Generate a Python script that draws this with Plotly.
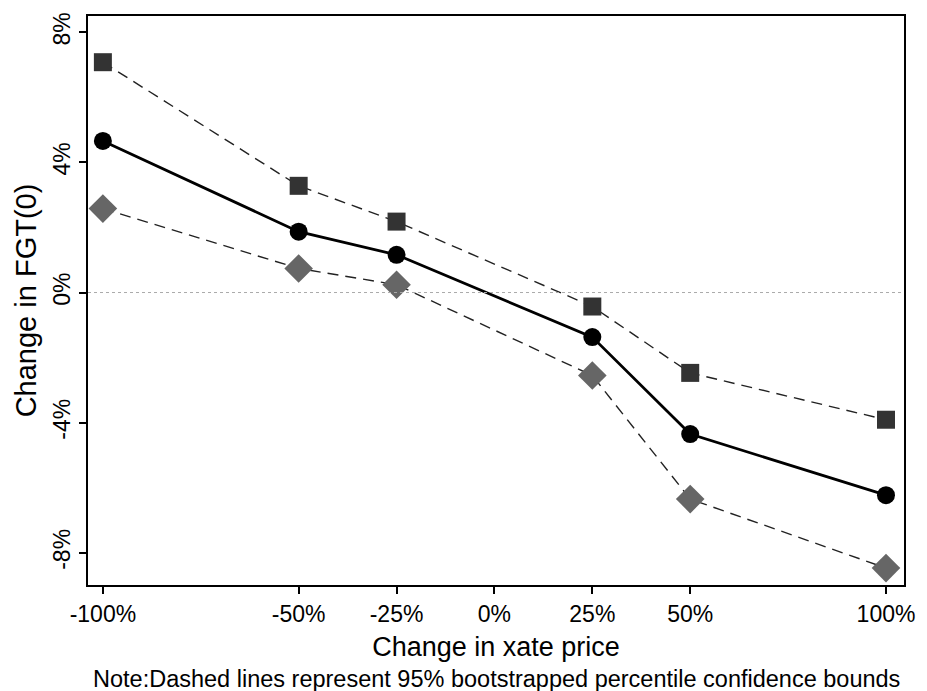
import plotly.graph_objects as go

price_change = [-100, -50, -25, 25, 50, 100]
upper_bound = [7.08, 3.28, 2.18, -0.43, -2.47, -3.91]
point_est = [4.66, 1.87, 1.16, -1.37, -4.35, -6.23]
lower_bound = [2.58, 0.74, 0.24, -2.55, -6.35, -8.47]

x_ticks = [-100, -50, -25, 0, 25, 50, 100]
x_ticktext = ["-100%", "-50%", "-25%", "0%", "25%", "50%", "100%"]
y_ticks = [-8, -4, 0, 4, 8]
y_ticktext = ["-8%", "-4%", "0%", "4%", "8%"]

FONT = "Liberation Sans, Arial, sans-serif"

fig = go.Figure()
fig.add_hline(y=0, line=dict(color="#aaaaaa", width=1, dash="dot"))
fig.add_trace(go.Scatter(x=price_change, y=upper_bound, mode="lines+markers",
                         line=dict(color="#222222", width=1.4, dash="11px,7px"),
                         marker=dict(symbol="square", size=18, color="#333333")))
fig.add_trace(go.Scatter(x=price_change, y=lower_bound, mode="lines+markers",
                         line=dict(color="#222222", width=1.4, dash="11px,7px"),
                         marker=dict(symbol="diamond", size=22, color="#666666")))
fig.add_trace(go.Scatter(x=price_change, y=point_est, mode="lines+markers",
                         line=dict(color="#000000", width=2.8),
                         marker=dict(symbol="circle", size=18, color="#000000")))

fig.update_layout(
    width=927, height=691,
    margin=dict(l=88, r=20, t=15, b=106),
    paper_bgcolor="white", plot_bgcolor="white",
    showlegend=False,
    font=dict(family=FONT, color="black"),
    xaxis=dict(range=[-103.8, 104.6], tickvals=x_ticks, ticktext=x_ticktext,
               ticks="outside", ticklen=7, tickwidth=1.5, tickcolor="black",
               showgrid=False, zeroline=False, showline=True, linecolor="black",
               linewidth=1.8, mirror=True, tickfont=dict(size=23),
               title=dict(text="Change in xate price", font=dict(size=27), standoff=12)),
    yaxis=dict(range=[-8.99, 8.5], tickvals=y_ticks, ticktext=y_ticktext,
               ticks="outside", ticklen=7, tickwidth=1.5, tickcolor="black",
               showgrid=False, zeroline=False, showline=True, linecolor="black",
               linewidth=1.8, mirror=True, tickfont=dict(size=23), tickangle=-90,
               title=dict(text="Change in FGT(0)", font=dict(size=29), standoff=4)),
)
fig.add_annotation(text="Note:Dashed lines represent 95% bootstrapped percentile confidence bounds",
                   xref="paper", yref="paper", x=0.5, y=-0.165, yanchor="middle",
                   showarrow=False, font=dict(size=23.5, family=FONT))

fig.write_html("out.html")
